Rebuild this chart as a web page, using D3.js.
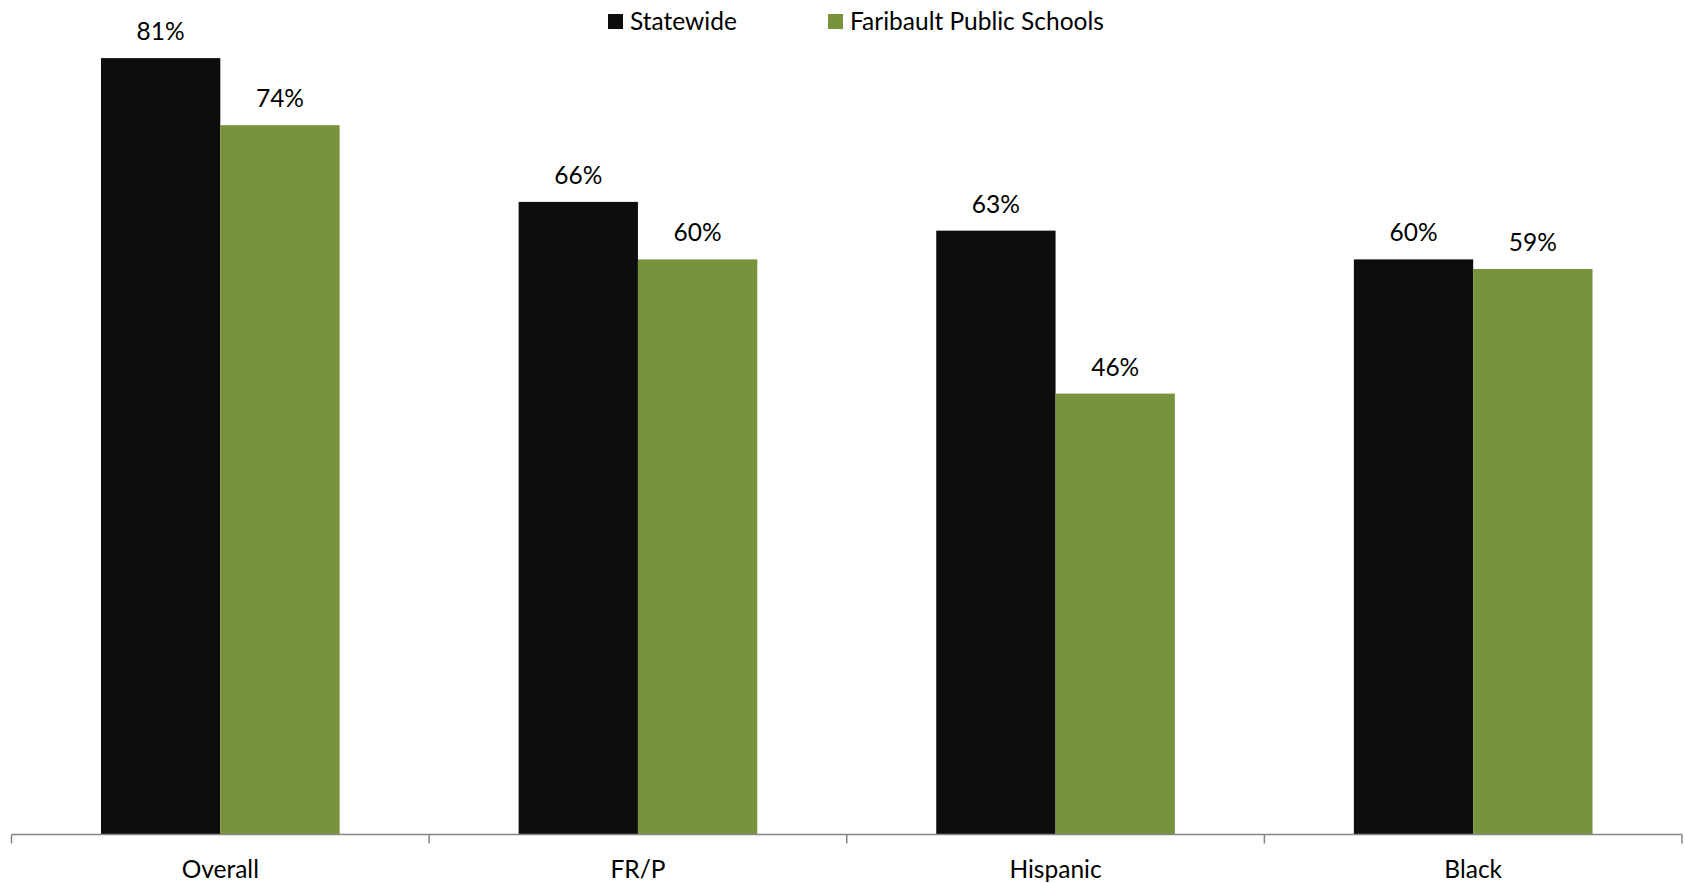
<!DOCTYPE html>
<html>
<head>
  <meta charset="utf-8">
  <title>Statewide vs Faribault</title>
  <script src="https://cdn.jsdelivr.net/npm/d3@7"></script>
  <style>
    body { margin: 0; background: #ffffff; }
    svg text { font-family: Lato, "Open Sans", sans-serif; fill: #000000; font-size: 24.5px; }
    .axis path, .axis line { stroke: #868686; stroke-width: 1.5; }
  </style>
</head>
<body>
<script>
  // Data
  var categories = ["Overall", "FR/P", "Hispanic", "Black"];
  var seriesNames = ["Statewide", "Faribault Public Schools"];
  var statewide = [81, 66, 63, 60];
  var faribault = [74, 60, 46, 59];
  var colors = ["#0d0d0d", "#77933c"];

  var width = 1685, height = 883;
  var baseY = 834.5;

  var svg = d3.select("body").append("svg")
      .attr("width", width)
      .attr("height", height);

  var xScale = d3.scaleBand()
      .domain(categories)
      .range([11.5, 1682])
      .padding(0);

  // gap width 150%: each band holds two bars plus 1.5 bar widths of gap
  var inner = d3.scaleBand()
      .domain(seriesNames)
      .range([0, xScale.bandwidth()])
      .paddingInner(0)
      .paddingOuter(0.75);

  var yScale = d3.scaleLinear()
      .domain([0, 100])
      .range([baseY, baseY - 958.5]);

  var rows = categories.map(function(c, i) {
    return { cat: c, values: [statewide[i], faribault[i]] };
  });

  var groups = svg.selectAll("g.cat")
      .data(rows)
      .enter().append("g")
      .attr("class", "cat")
      .attr("transform", function(d) { return "translate(" + xScale(d.cat) + ",0)"; });

  groups.selectAll("rect")
      .data(function(d) { return d.values.map(function(v, j) { return { name: seriesNames[j], v: v, j: j }; }); })
      .enter().append("rect")
      .attr("x", function(d) { return inner(d.name); })
      .attr("y", function(d) { return yScale(d.v); })
      .attr("width", inner.bandwidth())
      .attr("height", function(d) { return baseY - yScale(d.v); })
      .attr("fill", function(d) { return colors[d.j]; });

  groups.selectAll("text.val")
      .data(function(d) { return d.values.map(function(v, j) { return { name: seriesNames[j], v: v }; }); })
      .enter().append("text")
      .attr("class", "val")
      .attr("x", function(d) { return inner(d.name) + inner.bandwidth() / 2; })
      .attr("y", function(d) { return yScale(d.v) - 18; })
      .attr("text-anchor", "middle")
      .text(function(d) { return d.v + "%"; });

  // X axis
  var xAxis = d3.axisBottom(xScale).tickSize(0).tickPadding(0);
  var gx = svg.append("g")
      .attr("class", "axis")
      .attr("transform", "translate(0," + baseY + ")")
      .call(xAxis);
  gx.select(".domain").attr("d", "M" + xScale.range()[0] + ",0H" + xScale.range()[1]);
  gx.selectAll(".tick").remove();

  // tick marks sit on the band boundaries
  var bounds = categories.map(function(c) { return xScale(c); }).concat([xScale.range()[1]]);
  gx.selectAll("line.bound")
      .data(bounds)
      .enter().append("line")
      .attr("class", "bound")
      .attr("x1", function(d) { return d; })
      .attr("x2", function(d) { return d; })
      .attr("y1", 0)
      .attr("y2", 9);

  svg.selectAll("text.cat")
      .data(categories)
      .enter().append("text")
      .attr("class", "cat")
      .attr("x", function(d) { return xScale(d) + xScale.bandwidth() / 2; })
      .attr("y", 878)
      .attr("text-anchor", "middle")
      .text(function(d) { return d; });

  // Legend
  var legendX = [608, 828];
  var legend = svg.selectAll("g.legend")
      .data(seriesNames)
      .enter().append("g")
      .attr("class", "legend")
      .attr("transform", function(d, i) { return "translate(" + legendX[i] + ",14)"; });
  legend.append("rect")
      .attr("width", 15)
      .attr("height", 15)
      .attr("fill", function(d, i) { return colors[i]; });
  legend.append("text")
      .attr("x", 22)
      .attr("y", 16)
      .text(function(d) { return d; });
</script>
</body>
</html>
